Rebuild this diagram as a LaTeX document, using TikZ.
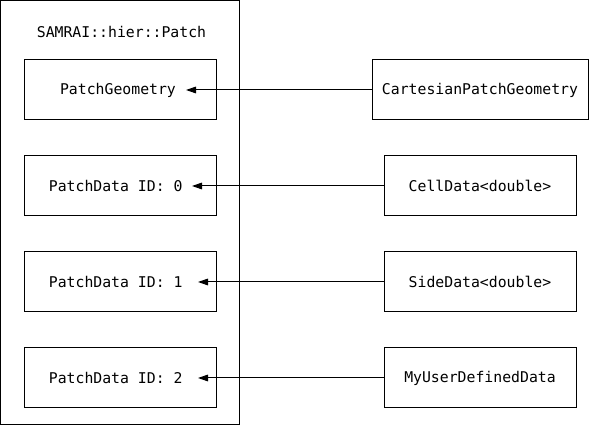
\documentclass[tikz,border=0pt]{standalone}
\usepackage{fontspec}
\setmonofont{DejaVu Sans Mono}
\usepackage{tikz}
\usetikzlibrary{%
        math,
        arrows.meta, % arrow tips
    }

\begin{document}
\begin{tikzpicture}[x=0.75pt, y=-0.75pt, line width=0.75pt,
        font=\ttfamily\fontsize{11.1pt}{13pt}\selectfont]
    \tikzmath{%
        % box size (px)
        \wrec=192;
        \hrec=60;
        % rows
        \ytop=90;
        \drow=96;
    };

    \tikzset{%
        recbox/.style={draw, minimum width=\wrec*0.75pt, minimum height=\hrec*0.75pt, inner sep=0pt},
        link/.style={-{Triangle[length=7.5pt, width=5pt]}},
    }

    \useasboundingbox (0, 0) rectangle (589, 427);

    % SAMRAI::hier::Patch
    \node (patch) [draw, minimum width=178.9pt, minimum height=318pt, inner sep=0pt] at (120.25, 213) {};
    \node (title) at (121.5, 32) {SAMRAI::hier::Patch};

    % PatchGeometry
    \node (geom) [recbox] at (120, \ytop) {};
    \node (geomtxt) at (118, \ytop) {PatchGeometry};
    \coordinate (geomin) at (186, \ytop);
    \node (cart) [recbox, minimum width=162pt] at (480, \ytop) {CartesianPatchGeometry};
    \draw [link] (cart) -- (geomin);

    % PatchData
    \foreach \i/\rname/\rtext/\tip in {0/cell/CellData<double>/192, 1/side/SideData<double>/198, 2/user/MyUserDefinedData/198} {%
            \node (pd\i) [recbox] at (120, {\ytop+(\i+1)*\drow}) {};
            \node (pd\i txt) at (115.7, {\ytop+(\i+1)*\drow}) {PatchData ID: \i};
            \coordinate (pd\i in) at (\tip, {\ytop+(\i+1)*\drow});
            \node (\rname) [recbox] at (480, {\ytop+(\i+1)*\drow}) {\rtext};
            \draw [link] (\rname) -- (pd\i in);
        };
\end{tikzpicture}
\end{document}
